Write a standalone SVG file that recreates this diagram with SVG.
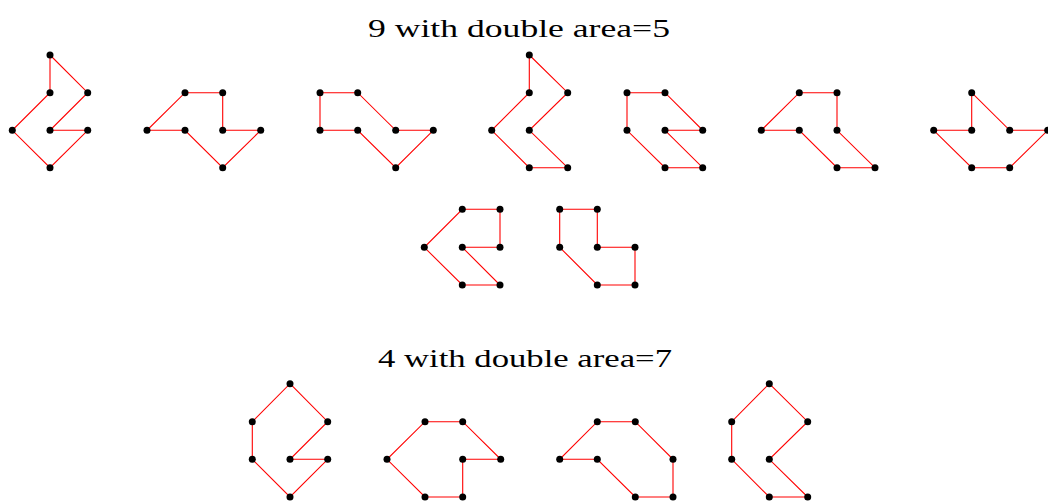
<svg xmlns="http://www.w3.org/2000/svg" width="1048" height="504" viewBox="0 0 1048 504">
<style>
.t{font-family:"Liberation Serif","DejaVu Serif",serif;font-size:26px;fill:#000}
.e{fill:none;stroke:#f00;stroke-width:1.1;stroke-linejoin:miter}
.d{fill:#000}
</style>
<defs><circle id="p" r="3.5" class="d"/></defs>
<rect width="1048" height="504" fill="#fff"/>
<text class="t" x="368" y="36.7" textLength="302" lengthAdjust="spacingAndGlyphs">9 with double area=5</text>
<text class="t" x="378" y="366.7" textLength="294" lengthAdjust="spacingAndGlyphs">4 with double area=7</text>
<g id="connectors">
<polygon class="e" points="50,55 87.7,92.7 50,130.3 87.7,130.3 50,167.7 12.3,130.3 50,92.7"/>
<polygon class="e" points="185,92.7 222.7,92.7 222.7,130.3 260.7,130.3 222.7,167.7 185,130.3 147,130.3"/>
<polygon class="e" points="320,92.7 357.7,92.7 395.7,130.3 433.3,130.3 395.7,167.7 357.7,130.3 320,130.3"/>
<polygon class="e" points="529.3,55 567.7,92.7 529.3,130.3 567.7,167.7 529.3,167.7 491.7,130.3 529.3,92.7"/>
<polygon class="e" points="627,92.7 665,92.7 702.7,130.3 665,130.3 702.7,167.7 665,167.7 627,130.3"/>
<polygon class="e" points="799.3,92.7 837,92.7 837,130.3 875,167.7 837,167.7 799.3,130.3 761.3,130.3"/>
<polygon class="e" points="971.7,92.7 1009.7,130.3 1047.7,130.3 1009.7,167.7 971.7,167.7 933.7,130.3 971.7,130.3"/>
<polygon class="e" points="462.3,209.3 500,209.3 500,247.3 462.3,247.3 500,285 462.3,285 424.3,247.3"/>
<polygon class="e" points="559.7,209.3 597.3,209.3 597.3,247.3 635,247.3 635,285 597.3,285 559.7,247.3"/>
<polygon class="e" points="290,383.7 327.7,421.7 290,459.3 327.7,459.3 290,497 252.3,459.3 252.3,421.7"/>
<polygon class="e" points="425,421.7 462.7,421.7 500.7,459.3 462.7,459.3 462.7,497 425,497 387,459.3"/>
<polygon class="e" points="597.3,421.7 635.3,421.7 673,459.3 673,497 635.3,497 597.3,459.3 559.7,459.3"/>
<polygon class="e" points="769.3,383.7 807.7,421.7 769.3,459.3 807.7,497 769.3,497 731.7,459.3 731.7,421.7"/>
</g>
<g id="poly1"><use href="#p" x="50" y="55"/><use href="#p" x="87.7" y="92.7"/><use href="#p" x="50" y="130.3"/><use href="#p" x="87.7" y="130.3"/><use href="#p" x="50" y="167.7"/><use href="#p" x="12.3" y="130.3"/><use href="#p" x="50" y="92.7"/></g>
<g id="poly2"><use href="#p" x="185" y="92.7"/><use href="#p" x="222.7" y="92.7"/><use href="#p" x="222.7" y="130.3"/><use href="#p" x="260.7" y="130.3"/><use href="#p" x="222.7" y="167.7"/><use href="#p" x="185" y="130.3"/><use href="#p" x="147" y="130.3"/></g>
<g id="poly3"><use href="#p" x="320" y="92.7"/><use href="#p" x="357.7" y="92.7"/><use href="#p" x="395.7" y="130.3"/><use href="#p" x="433.3" y="130.3"/><use href="#p" x="395.7" y="167.7"/><use href="#p" x="357.7" y="130.3"/><use href="#p" x="320" y="130.3"/></g>
<g id="poly4"><use href="#p" x="529.3" y="55"/><use href="#p" x="567.7" y="92.7"/><use href="#p" x="529.3" y="130.3"/><use href="#p" x="567.7" y="167.7"/><use href="#p" x="529.3" y="167.7"/><use href="#p" x="491.7" y="130.3"/><use href="#p" x="529.3" y="92.7"/></g>
<g id="poly5"><use href="#p" x="627" y="92.7"/><use href="#p" x="665" y="92.7"/><use href="#p" x="702.7" y="130.3"/><use href="#p" x="665" y="130.3"/><use href="#p" x="702.7" y="167.7"/><use href="#p" x="665" y="167.7"/><use href="#p" x="627" y="130.3"/></g>
<g id="poly6"><use href="#p" x="799.3" y="92.7"/><use href="#p" x="837" y="92.7"/><use href="#p" x="837" y="130.3"/><use href="#p" x="875" y="167.7"/><use href="#p" x="837" y="167.7"/><use href="#p" x="799.3" y="130.3"/><use href="#p" x="761.3" y="130.3"/></g>
<g id="poly7"><use href="#p" x="971.7" y="92.7"/><use href="#p" x="1009.7" y="130.3"/><use href="#p" x="1047.7" y="130.3"/><use href="#p" x="1009.7" y="167.7"/><use href="#p" x="971.7" y="167.7"/><use href="#p" x="933.7" y="130.3"/><use href="#p" x="971.7" y="130.3"/></g>
<g id="poly8"><use href="#p" x="462.3" y="209.3"/><use href="#p" x="500" y="209.3"/><use href="#p" x="500" y="247.3"/><use href="#p" x="462.3" y="247.3"/><use href="#p" x="500" y="285"/><use href="#p" x="462.3" y="285"/><use href="#p" x="424.3" y="247.3"/></g>
<g id="poly9"><use href="#p" x="559.7" y="209.3"/><use href="#p" x="597.3" y="209.3"/><use href="#p" x="597.3" y="247.3"/><use href="#p" x="635" y="247.3"/><use href="#p" x="635" y="285"/><use href="#p" x="597.3" y="285"/><use href="#p" x="559.7" y="247.3"/></g>
<g id="poly10"><use href="#p" x="290" y="383.7"/><use href="#p" x="327.7" y="421.7"/><use href="#p" x="290" y="459.3"/><use href="#p" x="327.7" y="459.3"/><use href="#p" x="290" y="497"/><use href="#p" x="252.3" y="459.3"/><use href="#p" x="252.3" y="421.7"/></g>
<g id="poly11"><use href="#p" x="425" y="421.7"/><use href="#p" x="462.7" y="421.7"/><use href="#p" x="500.7" y="459.3"/><use href="#p" x="462.7" y="459.3"/><use href="#p" x="462.7" y="497"/><use href="#p" x="425" y="497"/><use href="#p" x="387" y="459.3"/></g>
<g id="poly12"><use href="#p" x="597.3" y="421.7"/><use href="#p" x="635.3" y="421.7"/><use href="#p" x="673" y="459.3"/><use href="#p" x="673" y="497"/><use href="#p" x="635.3" y="497"/><use href="#p" x="597.3" y="459.3"/><use href="#p" x="559.7" y="459.3"/></g>
<g id="poly13"><use href="#p" x="769.3" y="383.7"/><use href="#p" x="807.7" y="421.7"/><use href="#p" x="769.3" y="459.3"/><use href="#p" x="807.7" y="497"/><use href="#p" x="769.3" y="497"/><use href="#p" x="731.7" y="459.3"/><use href="#p" x="731.7" y="421.7"/></g>
</svg>
